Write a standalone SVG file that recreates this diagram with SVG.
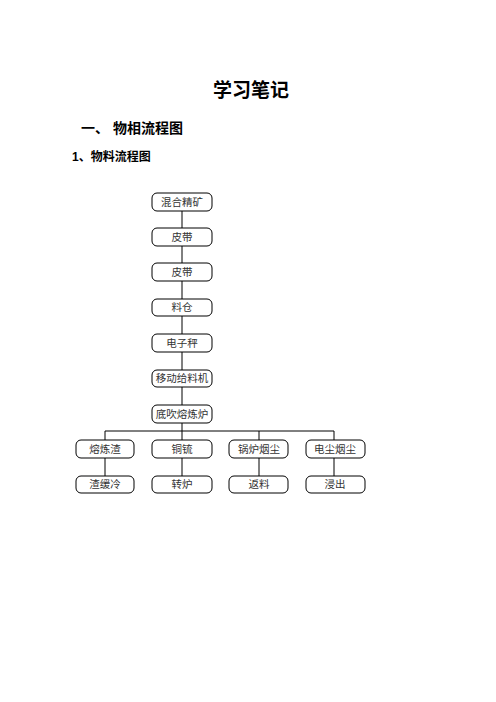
<svg xmlns="http://www.w3.org/2000/svg" width="496" height="702" viewBox="0 0 496 702">
<style>
.box{fill:#fff;stroke:#000;stroke-width:1}
.lbl{font-family:"Liberation Serif","Noto Sans CJK SC",serif;font-size:10.5px;fill:#333;text-anchor:middle;dominant-baseline:central}
.conn{stroke:#000;stroke-width:1;fill:none}
.h{font-family:"Liberation Sans","Noto Sans CJK SC",sans-serif;font-weight:bold;fill:#000}
</style>
<rect width="496" height="702" fill="#fff"/>
<text class="h" x="251" y="97" font-size="19" text-anchor="middle">学习笔记</text>
<text class="h" x="81" y="133" font-size="14">一、 物相流程图</text>
<text class="h" x="72" y="161" font-size="12">1、物料流程图</text>
<g id="connectors">
<path class="conn" d="M182 211V228M182 246V263M182 281V299M182 316V334M182 352V370M182 387V405M182 423V431M105 431H334M105 431V440M182 431V440M259 431V440M334 431V440M105 458V476M182 458V476M259 458V476M334 458V476"/>
</g>
<g id="n1"><rect class="box" x="152" y="193" width="60" height="18" rx="5"/><text class="lbl" x="182" y="202">混合精矿</text></g>
<g id="n2"><rect class="box" x="152" y="228" width="60" height="18" rx="5"/><text class="lbl" x="182" y="237">皮带</text></g>
<g id="n3"><rect class="box" x="152" y="263" width="60" height="18" rx="5"/><text class="lbl" x="182" y="272">皮带</text></g>
<g id="n4"><rect class="box" x="152" y="299" width="60" height="17" rx="5"/><text class="lbl" x="182" y="307.5">料仓</text></g>
<g id="n5"><rect class="box" x="152" y="334" width="60" height="18" rx="5"/><text class="lbl" x="182" y="343">电子秤</text></g>
<g id="n6"><rect class="box" x="152" y="370" width="60" height="17" rx="5"/><text class="lbl" x="182" y="378.5">移动给料机</text></g>
<g id="n7"><rect class="box" x="152" y="405" width="60" height="18" rx="5"/><text class="lbl" x="182" y="414">底吹熔炼炉</text></g>
<g id="n8"><rect class="box" x="76" y="440" width="58" height="18" rx="5"/><text class="lbl" x="105" y="449">熔炼渣</text></g>
<g id="n9"><rect class="box" x="152" y="440" width="60" height="18" rx="5"/><text class="lbl" x="182" y="449">铜锍</text></g>
<g id="n10"><rect class="box" x="229" y="440" width="59" height="18" rx="5"/><text class="lbl" x="259" y="449">锅炉烟尘</text></g>
<g id="n11"><rect class="box" x="306" y="440" width="59" height="18" rx="5"/><text class="lbl" x="335" y="449">电尘烟尘</text></g>
<g id="n12"><rect class="box" x="76" y="476" width="58" height="17" rx="5"/><text class="lbl" x="105" y="484.5">渣缓冷</text></g>
<g id="n13"><rect class="box" x="152" y="476" width="60" height="17" rx="5"/><text class="lbl" x="182" y="484.5">转炉</text></g>
<g id="n14"><rect class="box" x="229" y="476" width="59" height="17" rx="5"/><text class="lbl" x="259" y="484.5">返料</text></g>
<g id="n15"><rect class="box" x="306" y="476" width="59" height="17" rx="5"/><text class="lbl" x="335" y="484.5">浸出</text></g>
</svg>
